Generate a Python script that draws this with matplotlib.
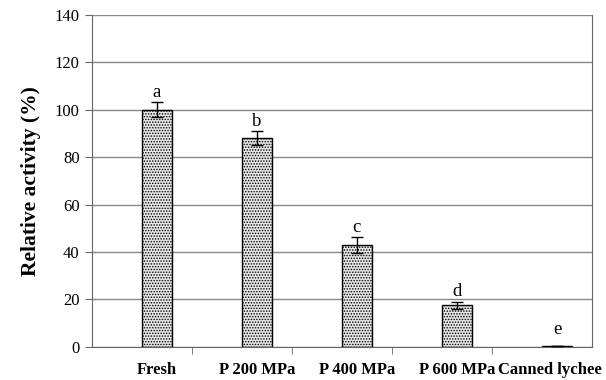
import matplotlib.pyplot as plt
import matplotlib.transforms as mtransforms
import numpy as np

plt.rcParams['font.family'] = ['Liberation Serif', 'DejaVu Serif']
plt.rcParams['hatch.color'] = '#8a8a8a'
plt.rcParams['hatch.linewidth'] = 0.7

# data
categories = ['Fresh', 'P 200 MPa', 'P 400 MPa', 'P 600 MPa', 'Canned lychee']
activity = [100, 88, 43, 17.5, 0.3]
errors = [3.2, 3.0, 3.2, 1.6, 0]
letters = ['a', 'b', 'c', 'd', 'e']

x = np.arange(len(categories))
xb = x + 0.15

fig = plt.figure(figsize=(6.06, 3.8), dpi=100)
ax = fig.add_axes([0.151, 0.087, 0.826, 0.874])

ax.yaxis.grid(True, color='#888888', linewidth=1.0)
ax.set_axisbelow(True)

ax.bar(xb, activity, width=0.3, color='#e6e6e6', edgecolor='black',
       linewidth=1.0, hatch='......', zorder=2)
ax.errorbar(xb, activity, yerr=errors, fmt='none', ecolor='black',
            elinewidth=1.0, capsize=4, capthick=1.0, zorder=3)

for xi, v, e, t in zip(xb, activity, errors, letters):
    # letter for the empty bar sits a bit higher in the original
    off = 0.5 if e > 0 else 3.5
    ax.text(xi, v + e + off, t, ha='center', va='bottom', fontsize=13.5)

ax.set_xlim(-0.5, 4.5)
ax.set_ylim(0, 140)
ax.set_yticks(np.arange(0, 141, 20))
ax.set_xticks(xb)
ax.set_xticklabels(categories, fontsize=12, fontweight='bold')
ax.tick_params(axis='x', length=0, pad=11)
ax.set_xticks(x[:-1] + 0.5, minor=True)
ax.tick_params(axis='x', which='minor', length=5, color='#666666')
ax.tick_params(axis='y', labelsize=12, length=5, color='#666666')
ax.set_ylabel('Relative activity (%)', fontsize=15.5, fontweight='bold', labelpad=10)

# nudge the last label so it stays inside the picture
last = ax.get_xticklabels()[-1]
shift = mtransforms.ScaledTranslation(-7 / 100, 0, fig.dpi_scale_trans)
last.set_transform(last.get_transform() + shift)

for s in ['left', 'right', 'bottom']:
    ax.spines[s].set_color('#666666')
ax.spines['top'].set_visible(False)

fig.savefig('out.png', dpi=100)
